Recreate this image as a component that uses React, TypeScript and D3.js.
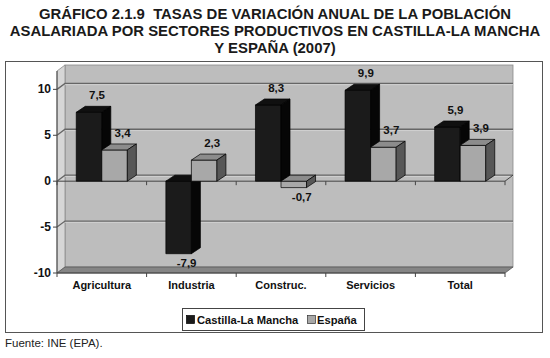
import React from "react";
import * as d3 from "d3";

const categories = ["Agricultura", "Industria", "Construc.", "Servicios", "Total"];
const clmValues = [7.5, -7.9, 8.3, 9.9, 5.9];
const espValues = [3.4, 2.3, -0.7, 3.7, 3.9];
const seriesNames = ["Castilla-La Mancha", "España"];
const yTicks = [-10, -5, 0, 5, 10];
const titleLines = [
  "GRÁFICO 2.1.9  TASAS DE VARIACIÓN ANUAL DE LA POBLACIÓN",
  "ASALARIADA POR SECTORES PRODUCTIVOS EN CASTILLA-LA MANCHA",
  "Y ESPAÑA (2007)",
];
const source = "Fuente: INE (EPA).";

const FONT = "'Liberation Sans', Arial, Helvetica, sans-serif";

const seriesColors = [
  { front: "#1b1b1b", top: "#101010", side: "#060606" },
  { front: "#a8a8a8", top: "#8c8c8c", side: "#575757" },
];

const fmt = (v: number) => d3.format(".1f")(v).replace(".", ",").replace("\u2212", "-");

export default function App() {
  const W = 550, H = 358;
  const left = 57, right = 505;
  const wallDx = 8, wallDy = -6;
  const barDx = 9, barDy = -6;

  const y = d3.scaleLinear().domain([-10, 12]).range([273, 71]);
  const x0 = d3.scaleBand<string>().domain(categories).range([left, right]).padding(0);
  const bw = x0.bandwidth();
  const x1 = d3.scaleBand<number>().domain([0, 1]).range([bw * 0.215, bw * 0.785]).padding(0);
  const barW = x1.bandwidth();

  const yMin = y(-10), yMax = y(12), y0 = y(0);

  const series = [clmValues, espValues];

  const bars: React.ReactNode[] = [];
  categories.forEach((c, i) => {
    series.forEach((vals, s) => {
      const v = vals[i];
      const bx = (x0(c) as number) + (x1(s) as number);
      const top = Math.min(y(v), y0);
      const bottom = Math.max(y(v), y0);
      const col = seriesColors[s];
      const topPts = [
        [bx, top], [bx + barDx, top + barDy], [bx + barW + barDx, top + barDy], [bx + barW, top],
      ].map((p) => p.join(",")).join(" ");
      const sidePts = [
        [bx + barW, top], [bx + barW + barDx, top + barDy], [bx + barW + barDx, bottom + barDy], [bx + barW, bottom],
      ].map((p) => p.join(",")).join(" ");
      bars.push(
        <g key={`b-${i}-${s}`} stroke="#000" strokeWidth={0.7} strokeLinejoin="round">
          <rect x={bx} y={top} width={barW} height={bottom - top} fill={col.front} />
          <polygon points={topPts} fill={col.top} />
          <polygon points={sidePts} fill={col.side} />
        </g>
      );
    });
  });

  const labels: React.ReactNode[] = [];
  categories.forEach((c, i) => {
    series.forEach((vals, s) => {
      const v = vals[i];
      const cx = (x0(c) as number) + (x1(s) as number) + barW / 2 + 8;
      const cy = v >= 0 ? y(v) - 17 : y(v) + 9;
      labels.push(
        <text key={`l-${i}-${s}`} x={cx} y={cy} textAnchor="middle" dominantBaseline="central"
          fontFamily={FONT} fontWeight="bold" fontSize={11.5} fill="#111">
          {fmt(v)}
        </text>
      );
    });
  });

  const boundaries = d3.range(categories.length + 1).map((k) => left + k * bw);

  return (
    <svg width={W} height={H} style={{ position: "absolute", left: 0, top: 0, background: "#fff" }}>
      {/* title */}
      {titleLines.map((t, i) => (
        <text key={`t${i}`} x={275} y={14 + i * 17} textAnchor="middle" dominantBaseline="central"
          fontFamily={FONT} fontWeight="bold" fontSize={14.9} fill="#1a1a1a" style={{ whiteSpace: "pre" }}>{t}</text>
      ))}
      {/* frame */}
      <rect x={5.5} y={61.5} width={537} height={271} fill="#fff" stroke="#555" strokeWidth={1} />

      {/* back wall */}
      <rect x={left + wallDx} y={yMax + wallDy} width={right - left} height={yMin - yMax} fill="#bdbdbd" stroke="#8a8a8a" strokeWidth={0.8} />
      {/* left side wall */}
      <polygon
        points={[[left, yMax], [left + wallDx, yMax + wallDy], [left + wallDx, yMin + wallDy], [left, yMin]].map((p) => p.join(",")).join(" ")}
        fill="#d6d6d6" stroke="#8a8a8a" strokeWidth={0.8} />
      {/* floor */}
      <polygon
        points={[[left, yMin], [left + wallDx, yMin + wallDy], [right + wallDx, yMin + wallDy], [right, yMin]].map((p) => p.join(",")).join(" ")}
        fill="#858585" stroke="#555" strokeWidth={0.8} />

      {/* gridlines */}
      {yTicks.filter((t) => t !== -10).map((t) => (
        <g key={`g${t}`}>
          <polyline
            points={[[left, y(t)], [left + wallDx, y(t) + wallDy], [right + wallDx, y(t) + wallDy]].map((p) => p.join(",")).join(" ")}
            fill="none" stroke="#666" strokeWidth={1.3} />
          <line x1={left + wallDx} x2={right + wallDx} y1={y(t) + wallDy + 1.3} y2={y(t) + wallDy + 1.3} stroke="#d8d8d8" strokeWidth={0.7} />
        </g>
      ))}

      {/* zero category axis (front) */}
      <line x1={left} x2={right} y1={y0} y2={y0} stroke="#444" strokeWidth={1} />
      <line x1={right} x2={right + wallDx} y1={y0} y2={y0 + wallDy} stroke="#444" strokeWidth={1} />
      {boundaries.map((bx, k) => (
        <line key={`zt${k}`} x1={bx} x2={bx} y1={y0} y2={y0 + 4} stroke="#444" strokeWidth={1} />
      ))}

      {bars}
      {labels}

      {/* y axis */}
      <line x1={left} x2={left} y1={yMax} y2={yMin} stroke="#444" strokeWidth={1} />
      {yTicks.map((t) => (
        <g key={`yt${t}`}>
          <line x1={left - 4} x2={left} y1={y(t)} y2={y(t)} stroke="#444" strokeWidth={1} />
          <text x={left - 6} y={y(t)} textAnchor="end" dominantBaseline="central"
            fontFamily={FONT} fontWeight="bold" fontSize={12} fill="#111">{fmt(t).replace(",0", "")}</text>
        </g>
      ))}

      {/* bottom category axis */}
      <line x1={left} x2={right} y1={yMin} y2={yMin} stroke="#444" strokeWidth={1} />
      {boundaries.map((bx, k) => (
        <line key={`bt${k}`} x1={bx} x2={bx} y1={yMin} y2={yMin + 4} stroke="#444" strokeWidth={1} />
      ))}
      {categories.map((c) => (
        <text key={`c-${c}`} x={(x0(c) as number) + bw / 2} y={285} textAnchor="middle" dominantBaseline="central"
          fontFamily={FONT} fontWeight="bold" fontSize={11} fill="#111">{c}</text>
      ))}

      {/* legend */}
      <rect x={182.5} y={308.5} width={182} height={22} fill="#fff" stroke="#444" strokeWidth={1} />
      <rect x={186.5} y={315.5} width={8} height={8} fill={seriesColors[0].front} stroke="#000" strokeWidth={0.7} />
      <text x={197} y={319.5} dominantBaseline="central" fontFamily={FONT} fontWeight="bold" fontSize={11.2} fill="#111">{seriesNames[0]}</text>
      <rect x={307.5} y={315.5} width={8} height={8} fill={seriesColors[1].front} stroke="#333" strokeWidth={0.7} />
      <text x={317} y={319.5} dominantBaseline="central" fontFamily={FONT} fontWeight="bold" fontSize={11.2} fill="#111">{seriesNames[1]}</text>

      {/* source */}
      <text x={5} y={343} dominantBaseline="central" fontFamily={FONT} fontSize={11.5} fill="#222">{source}</text>
    </svg>
  );
}
